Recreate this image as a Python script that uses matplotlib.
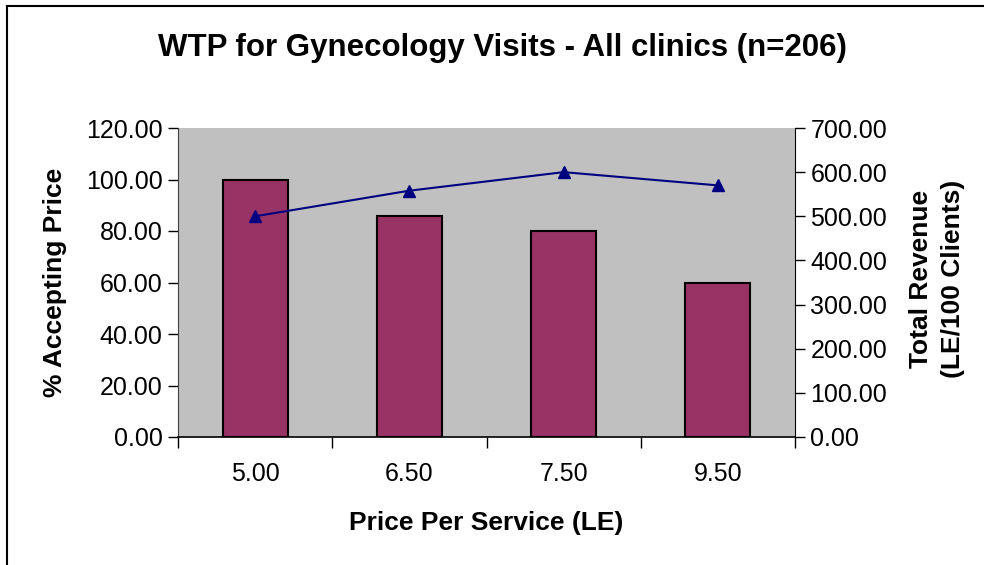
import matplotlib
matplotlib.use("Agg")
import matplotlib.pyplot as plt
from matplotlib.lines import Line2D
import numpy as np

plt.rcParams['font.family'] = ['Liberation Sans', 'DejaVu Sans']

categories = ["5.00", "6.50", "7.50", "9.50"]
pct_accepting = [100.0, 85.8, 80.0, 60.0]
total_revenue = [500.0, 558.0, 600.0, 570.0]
left_ticks = [0, 20, 40, 60, 80, 100, 120]
right_ticks = [0, 100, 200, 300, 400, 500, 600, 700]

fig = plt.figure(figsize=(9.84, 5.65), dpi=100)
fig.patch.set_facecolor('white')
ax = fig.add_axes([178/984, 1-437/565, (795-178)/984, (437-128)/565])
ax.set_facecolor('#C0C0C0')
x = np.arange(len(categories))
ax.bar(x, pct_accepting, width=0.42, color='#993366', edgecolor='black', linewidth=1.5, zorder=2)
ax.set_xlim(-0.5, len(categories) - 0.5)
ax.set_ylim(0, 120)
ax.set_yticks(left_ticks)
ax.set_yticklabels([f"{v:.2f}" for v in left_ticks], fontsize=18)
ax.set_xticks(np.arange(-0.5, len(categories), 1.0))
ax.set_xticklabels([])
ax.set_xticks(x, minor=True)
ax.set_xticklabels(categories, minor=True, fontsize=18)
ax.tick_params(axis='x', which='major', length=8, width=1, color='black')
ax.tick_params(axis='x', which='minor', length=0, pad=18)
ax.tick_params(axis='y', length=7, width=1, direction='out', pad=4)
for s in ['top', 'right']:
    ax.spines[s].set_visible(False)
ax.spines['left'].set_color('#404040')
ax.spines['bottom'].set_color('black')
ax.spines['bottom'].set_linewidth(1.2)
ax.set_xlabel("Price Per Service (LE)", fontsize=19, fontweight='bold', labelpad=18)
ax.set_ylabel("% Accepting Price", fontsize=19, fontweight='bold', labelpad=14)

ax2 = ax.twinx()
ax2.plot(x, total_revenue, color='#000080', linewidth=1.5, marker='^', markersize=9, zorder=3)
ax2.set_ylim(0, 700)
ax2.set_yticks(right_ticks)
ax2.set_yticklabels([f"{v:.2f}" for v in right_ticks], fontsize=18)
ax2.tick_params(axis='y', length=7, width=1, direction='out', pad=4)
for s in ['top', 'left', 'bottom']:
    ax2.spines[s].set_visible(False)
ax2.spines['right'].set_color('black')

fig.text(937/984, 1-279/565, "Total Revenue\n(LE/100 Clients)", rotation=90,
         ha='center', va='center', fontsize=19, fontweight='bold', linespacing=1.4)

fig.text(502/984, 1-48/565, "WTP for Gynecology Visits - All clinics (n=206)",
         ha='center', va='center', fontsize=22.5, fontweight='bold')

fig.add_artist(Line2D([7/984, 7/984], [0, 1-6/565], color='black', linewidth=1.5, transform=fig.transFigure))
fig.add_artist(Line2D([7/984, 1], [1-6/565, 1-6/565], color='black', linewidth=1.5, transform=fig.transFigure))

fig.savefig("out.png", dpi=100)
